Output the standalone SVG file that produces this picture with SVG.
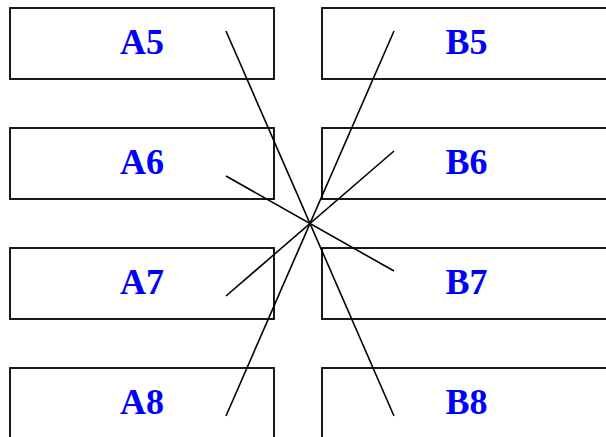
<svg xmlns="http://www.w3.org/2000/svg" width="606" height="437" viewBox="0 0 606 437">
<style>
.box{fill:#fff;stroke:#000;stroke-width:1.8}
.lbl{font-family:"Liberation Serif","Times New Roman",serif;font-weight:bold;font-size:36px;fill:#0000ff;text-anchor:middle}
.ln{stroke:#000;stroke-width:1.6;fill:none}
</style>
<rect width="606" height="437" fill="#fff"/>
<g id="A5"><rect class="box" x="10" y="8" width="264" height="71"/><text class="lbl" x="142" y="53.5">A5</text></g>
<g id="A6"><rect class="box" x="10" y="128" width="264" height="71"/><text class="lbl" x="142" y="173.5">A6</text></g>
<g id="A7"><rect class="box" x="10" y="248" width="264" height="71"/><text class="lbl" x="142" y="293.5">A7</text></g>
<g id="A8"><rect class="box" x="10" y="368" width="264" height="71"/><text class="lbl" x="142" y="413.5">A8</text></g>
<g id="B5"><rect class="box" x="322" y="8" width="290" height="71"/><text class="lbl" x="466.5" y="53.5">B5</text></g>
<g id="B6"><rect class="box" x="322" y="128" width="290" height="71"/><text class="lbl" x="466.5" y="173.5">B6</text></g>
<g id="B7"><rect class="box" x="322" y="248" width="290" height="71"/><text class="lbl" x="466.5" y="293.5">B7</text></g>
<g id="B8"><rect class="box" x="322" y="368" width="290" height="71"/><text class="lbl" x="466.5" y="413.5">B8</text></g>
<g id="connectors">
<line class="ln" x1="226" y1="31" x2="394" y2="416"/>
<line class="ln" x1="226" y1="176" x2="394" y2="271"/>
<line class="ln" x1="226" y1="296" x2="394" y2="151"/>
<line class="ln" x1="226" y1="416" x2="394" y2="31"/>
</g>
</svg>
